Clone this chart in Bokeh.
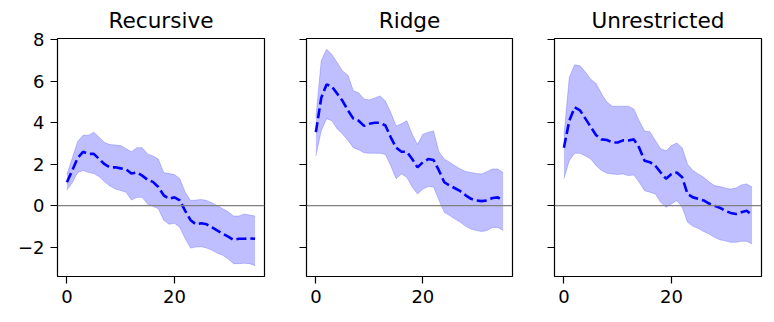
from bokeh.plotting import figure
from bokeh.layouts import row
from bokeh.models import Range1d, FixedTicker, Span, ColumnDataSource
from bokeh.embed import file_html
from bokeh.resources import INLINE

horizon = list(range(36))

titles = ["Recursive", "Ridge", "Unrestricted"]

rec_med = [1.13, 1.7, 2.3, 2.6, 2.5, 2.5, 2.25, 2.0, 1.85, 1.85, 1.8, 1.75, 1.55, 1.6, 1.45, 1.25, 1.15, 0.9,
           0.5, 0.33, 0.4, 0.25, -0.25, -0.7, -0.9, -0.85, -0.9, -1.05, -1.2, -1.35, -1.5, -1.65, -1.6, -1.6, -1.58, -1.6]
rec_hi = [1.5, 2.3, 3.1, 3.4, 3.4, 3.55, 3.3, 3.05, 2.95, 2.93, 2.9, 2.75, 2.6, 2.8, 2.8, 2.5, 2.4, 2.25,
          1.6, 1.55, 1.5, 1.3, 0.65, 0.25, 0.27, 0.3, 0.25, 0.13, 0.0, -0.15, -0.3, -0.5, -0.5, -0.4, -0.45, -0.5]
rec_lo = [0.75, 1.1, 1.6, 1.7, 1.6, 1.55, 1.4, 1.15, 0.95, 0.8, 0.73, 0.65, 0.27, 0.4, 0.4, 0.08, -0.03, -0.15,
          -0.7, -0.9, -0.85, -1.05, -1.6, -2.05, -2.0, -1.98, -2.05, -2.15, -2.3, -2.4, -2.57, -2.8, -2.8, -2.78, -2.8, -2.9]

ridge_med = [3.55, 5.2, 5.85, 5.75, 5.4, 5.05, 4.6, 4.2, 4.1, 3.85, 3.95, 4.0, 4.0, 3.87, 3.3, 2.8, 2.6, 2.6,
             2.25, 1.85, 2.1, 2.25, 2.2, 1.7, 1.13, 0.97, 0.84, 0.7, 0.5, 0.33, 0.25, 0.22, 0.25, 0.37, 0.4, 0.25]
ridge_hi = [4.25, 7.0, 7.55, 7.3, 6.9, 6.5, 6.3, 5.55, 5.45, 5.15, 5.1, 5.2, 5.3, 5.05, 4.5, 3.85, 3.95, 4.1,
            3.45, 2.95, 3.45, 3.55, 3.6, 2.6, 2.25, 2.1, 1.93, 1.77, 1.65, 1.6, 1.55, 1.53, 1.65, 1.77, 1.77, 1.6]
ridge_lo = [2.4, 3.6, 4.2, 4.1, 3.7, 3.45, 3.15, 2.8, 2.7, 2.55, 2.53, 2.53, 2.53, 2.47, 1.93, 1.3, 1.53, 1.37,
            0.9, 0.56, 0.8, 0.92, 0.9, 0.27, -0.32, -0.48, -0.65, -0.8, -1.0, -1.13, -1.2, -1.25, -1.2, -1.05, -1.05, -1.2]

unr_med = [2.8, 4.1, 4.75, 4.6, 4.2, 3.8, 3.4, 3.2, 3.17, 3.05, 3.05, 3.15, 3.15, 3.2, 2.8, 2.17, 2.1, 1.93,
           1.6, 1.3, 1.53, 1.6, 1.37, 0.56, 0.4, 0.33, 0.25, 0.1, 0.0, -0.1, -0.25, -0.35, -0.4, -0.32, -0.25, -0.45]
unr_hi = [3.35, 6.2, 6.8, 6.75, 6.45, 6.1, 5.9, 5.4, 5.0, 4.8, 4.8, 4.8, 4.8, 4.67, 4.1, 3.6, 3.57, 3.15,
          2.75, 2.65, 2.9, 3.03, 2.8, 2.0, 1.7, 1.53, 1.37, 1.15, 0.97, 0.92, 0.85, 0.8, 0.85, 1.0, 1.05, 0.9]
unr_lo = [1.3, 2.17, 2.53, 2.53, 2.4, 2.25, 1.93, 1.7, 1.57, 1.53, 1.5, 1.53, 1.45, 1.48, 1.13, 0.72, 0.65, 0.56,
          0.16, -0.08, 0.08, 0.25, -0.08, -0.8, -1.0, -1.1, -1.25, -1.37, -1.53, -1.65, -1.7, -1.77, -1.77, -1.72, -1.72, -1.85]

y_ticks = [-2, 0, 2, 4, 6, 8]
y_tick_labels = ["\u22122", "0", "2", "4", "6", "8"]
x_ticks = [0, 20]
x_tick_labels = ["0", "20"]

series = [(rec_med, rec_lo, rec_hi), (ridge_med, ridge_lo, ridge_hi), (unr_med, unr_lo, unr_hi)]

FONT = "DejaVu Sans"
x_range = Range1d(-1.75, 36.75)
y_range = Range1d(-3.42, 8.07)

layout_specs = [
    dict(frame_width=207, min_border_left=57, min_border_right=10),
    dict(frame_width=206, min_border_left=32, min_border_right=10),
    dict(frame_width=207, min_border_left=32, min_border_right=5),
]

figs = []
for i, (title, (med, lo, hi), spec) in enumerate(zip(titles, series, layout_specs)):
    p = figure(frame_width=spec["frame_width"], frame_height=238,
               min_border_left=spec["min_border_left"], min_border_right=spec["min_border_right"],
               min_border_top=38, min_border_bottom=36,
               x_range=x_range, y_range=y_range,
               output_backend="svg", toolbar_location=None, title=title)
    p.title.text_font = FONT
    p.title.text_font_size = "21.6px"
    p.title.text_font_style = "normal"
    p.title.text_color = "black"
    p.title.align = "center"
    p.title.standoff = 11
    p.grid.visible = False
    p.outline_line_color = "black"
    p.outline_line_width = 1.2
    p.outline_line_alpha = 1.0
    p.background_fill_color = "white"
    p.border_fill_color = "white"

    src = ColumnDataSource(dict(x=horizon, med=med, lo=lo, hi=hi))
    p.varea(x="x", y1="lo", y2="hi", source=src, fill_color="blue", fill_alpha=0.25)
    p.line(x="x", y="lo", source=src, line_color="blue", line_alpha=0.2, line_width=1)
    p.line(x="x", y="hi", source=src, line_color="blue", line_alpha=0.2, line_width=1)
    p.add_layout(Span(location=0, dimension="width", line_color="#808080", line_width=1.3))
    p.line(x="x", y="med", source=src, line_color="blue", line_width=2.6, line_dash="10 4")

    for ax in (p.xaxis[0], p.yaxis[0]):
        ax.axis_line_color = None
        ax.major_tick_out = 7
        ax.major_tick_in = 0
        ax.minor_tick_out = 0
        ax.minor_tick_in = 0
        ax.major_tick_line_color = "black"
        ax.major_tick_line_width = 1.2
        ax.major_label_text_font = FONT
        ax.major_label_text_font_size = "18px"
        ax.major_label_text_color = "black"
        ax.major_label_standoff = 6
    p.xaxis.ticker = FixedTicker(ticks=x_ticks)
    p.xaxis.major_label_overrides = dict(zip(x_ticks, x_tick_labels))
    p.yaxis.ticker = FixedTicker(ticks=y_ticks)
    if i == 0:
        p.yaxis.major_label_overrides = dict(zip(y_ticks, y_tick_labels))
    else:
        p.yaxis.major_label_overrides = {t: "" for t in y_ticks}
    figs.append(p)

layout = row(*figs, spacing=0)
open("out.html", "w").write(file_html(layout, INLINE))
